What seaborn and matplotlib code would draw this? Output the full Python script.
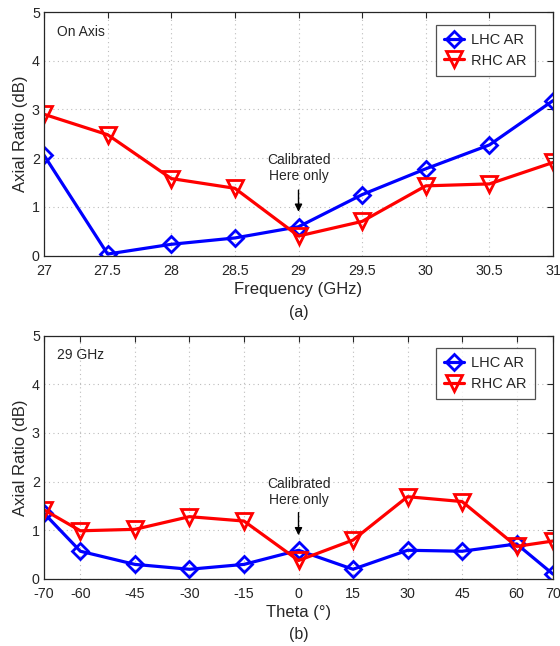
import numpy as np
import pandas as pd
import matplotlib
matplotlib.use("Agg")
import matplotlib.pyplot as plt
import seaborn as sns

# ---- data ----
freq = [27, 27.5, 28, 28.5, 29, 29.5, 30, 30.5, 31]
lhc_freq = [2.06, 0.03, 0.23, 0.36, 0.59, 1.25, 1.78, 2.27, 3.18]
rhc_freq = [2.90, 2.48, 1.58, 1.38, 0.40, 0.70, 1.43, 1.47, 1.91]
freq_ticks = [27, 27.5, 28, 28.5, 29, 29.5, 30, 30.5, 31]
freq_ticklabels = ["27", "27.5", "28", "28.5", "29", "29.5", "30", "30.5", "31"]

theta = [-70, -60, -45, -30, -15, 0, 15, 30, 45, 60, 70]
lhc_theta = [1.35, 0.57, 0.30, 0.20, 0.30, 0.59, 0.20, 0.59, 0.57, 0.72, 0.10]
rhc_theta = [1.42, 0.99, 1.02, 1.28, 1.19, 0.38, 0.80, 1.69, 1.59, 0.67, 0.78]
theta_ticks = [-70, -60, -45, -30, -15, 0, 15, 30, 45, 60, 70]

y_ticks = [0, 1, 2, 3, 4, 5]
series_names = ["LHC AR", "RHC AR"]

sns.set_theme(style="white")
plt.rcParams["font.family"] = ["Liberation Sans", "DejaVu Sans"]

FS_TICK = 10.3
FS_LAB = 12.0
FS_TXT = 10.0

fig = plt.figure(figsize=(5.6, 6.46), dpi=100)
W, H = 560, 646
def axrect(l, r, t, b):
    return [l / W, 1 - b / H, (r - l) / W, (b - t) / H]

ax1 = fig.add_axes(axrect(44, 553, 12, 255.5))
ax2 = fig.add_axes(axrect(44, 553, 335.5, 579))

dark = "#262626"

def style_axes(ax, xticks, xlabels, xlim):
    ax.set_xlim(*xlim)
    ax.set_ylim(0, 5)
    ax.set_xticks(xticks)
    ax.set_xticklabels(xlabels)
    ax.set_yticks(y_ticks)
    ax.grid(True, linestyle=(0, (1, 3)), color="#bdbdbd", linewidth=0.8)
    ax.tick_params(direction="in", length=4, width=0.8, colors=dark,
                   labelsize=FS_TICK, top=True, right=True)
    ax.tick_params(axis="x", pad=6)
    ax.tick_params(axis="y", pad=3)
    for s in ax.spines.values():
        s.set_color(dark)
        s.set_linewidth(0.9)
        s.set_visible(True)
    ax.set_ylabel("Axial Ratio (dB)", fontsize=FS_LAB, color=dark, labelpad=3)

def draw(ax, x, lhc, rhc):
    sns.lineplot(x=x, y=lhc, ax=ax, color="#0000ff", lw=2.3, marker="D",
                 markersize=8.5, markerfacecolor="none", markeredgecolor="#0000ff",
                 markeredgewidth=2, label=series_names[0])
    sns.lineplot(x=x, y=rhc, ax=ax, color="#ff0000", lw=2.3, marker="v",
                 markersize=11, markerfacecolor="none", markeredgecolor="#ff0000",
                 markeredgewidth=2, label=series_names[1])
    leg = ax.legend(loc="upper right", bbox_to_anchor=(0.9646, 0.9467),
                    borderaxespad=0, fontsize=FS_TXT + 0.5, frameon=True, fancybox=False,
                    edgecolor=dark, handlelength=1.4, handletextpad=0.5,
                    borderpad=0.55, labelspacing=0.45)
    leg.get_frame().set_linewidth(0.9)
    for t in leg.get_texts():
        t.set_color(dark)

draw(ax1, freq, lhc_freq, rhc_freq)
style_axes(ax1, freq_ticks, freq_ticklabels, (27, 31))
ax1.set_xlabel("Frequency (GHz)", fontsize=FS_LAB, color=dark, labelpad=3)
ax1.text(27.1, 4.59, "On Axis", fontsize=FS_TXT, color=dark, va="center", ha="left")
ax1.text(29, 1.79, "Calibrated\nHere only", fontsize=FS_TXT, color=dark,
         ha="center", va="center", linespacing=1.2)
ax1.annotate("", xy=(29, 0.84), xytext=(29, 1.4),
             arrowprops=dict(arrowstyle="-|>", color="black", lw=1, mutation_scale=11))

draw(ax2, theta, lhc_theta, rhc_theta)
style_axes(ax2, theta_ticks, [str(t) for t in theta_ticks], (-70, 70))
ax2.set_xlabel("Theta (\u00b0)", fontsize=FS_LAB, color=dark, labelpad=3)
ax2.text(-66.4, 4.59, "29 GHz", fontsize=FS_TXT, color=dark, va="center", ha="left")
ax2.text(0, 1.79, "Calibrated\nHere only", fontsize=FS_TXT, color=dark,
         ha="center", va="center", linespacing=1.2)
ax2.annotate("", xy=(0, 0.84), xytext=(0, 1.42),
             arrowprops=dict(arrowstyle="-|>", color="black", lw=1, mutation_scale=11))

fig.text(298.5 / W, 1 - 312 / H, "(a)", ha="center", va="center", fontsize=FS_LAB * 0.95, color=dark)
fig.text(298.5 / W, 1 - 635 / H, "(b)", ha="center", va="center", fontsize=FS_LAB * 0.95, color=dark)

fig.savefig("out.png", dpi=100)
